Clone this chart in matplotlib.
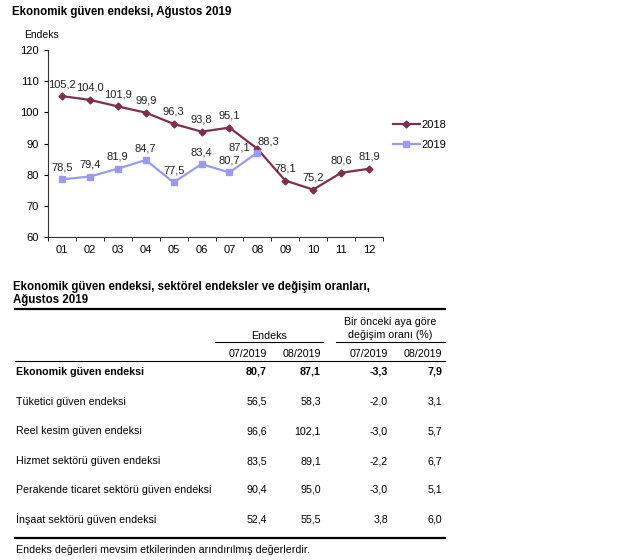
import matplotlib
matplotlib.use("Agg")
import matplotlib.pyplot as plt
from matplotlib.lines import Line2D

plt.rcParams['font.family'] = ['Liberation Sans', 'DejaVu Sans']

# Chart data
months = ['01', '02', '03', '04', '05', '06', '07', '08', '09', '10', '11', '12']
y2018 = [105.2, 104.0, 101.9, 99.9, 96.3, 93.8, 95.1, 88.3, 78.1, 75.2, 80.6, 81.9]
y2019 = [78.5, 79.4, 81.9, 84.7, 77.5, 83.4, 80.7, 87.1]

# Table data
row_labels = ['Ekonomik güven endeksi', 'Tüketici güven endeksi', 'Reel kesim güven endeksi',
              'Hizmet sektörü güven endeksi', 'Perakende ticaret sektörü güven endeksi',
              'İnşaat sektörü güven endeksi']
idx_jul = ['80,7', '56,5', '96,6', '83,5', '90,4', '52,4']
idx_aug = ['87,1', '58,3', '102,1', '89,1', '95,0', '55,5']
chg_jul = ['-3,3', '-2,0', '-3,0', '-2,2', '-3,0', '3,8']
chg_aug = ['7,9', '3,1', '5,7', '6,7', '5,1', '6,0']
col_heads = ['07/2019', '08/2019', '07/2019', '08/2019']

W, H = 640, 560
fig = plt.figure(figsize=(6.4, 5.6), dpi=100)

def fx(px):
    return px / W

def fy(py):
    return 1 - py / H

c18 = '#7E2F4F'
c19 = '#9A9AEE'

ax = fig.add_axes([fx(48), fy(237), fx(383 - 48), (237 - 50) / H])
x = list(range(1, 13))
ax.plot(x, y2018, color=c18, lw=1.6, marker='D', ms=3.5, label='2018')
ax.plot(x[:len(y2019)], y2019, color=c19, lw=1.6, marker='s', ms=4.5, label='2019')

def fmt(v):
    return f'{v:.1f}'.replace('.', ',')

for i, v in enumerate(y2018):
    off = (8, 2) if i == 7 else (0, 5)
    ax.annotate(fmt(v), (x[i], v), xytext=off, textcoords='offset points',
                ha='center', va='bottom', fontsize=8, color='#222222')
for i, v in enumerate(y2019):
    off = (-13, 0) if i == 7 else (0, 5)
    ax.annotate(fmt(v), (x[i], v), xytext=off, textcoords='offset points',
                ha='center', va='bottom', fontsize=8, color='#222222')

ax.set_xlim(0.5, 12.5)
ax.set_ylim(60, 120)
ax.set_yticks(range(60, 121, 10))
ax.set_xticks(x)
ax.set_xticklabels(months)
ax.set_xticks([i + 0.5 for i in range(0, 13)], minor=True)
ax.tick_params(axis='x', which='major', length=0, labelsize=8, pad=6)
ax.tick_params(axis='x', which='minor', length=3, direction='out')
ax.tick_params(axis='y', length=3, direction='out', labelsize=8)
for s in ['top', 'right']:
    ax.spines[s].set_visible(False)
ax.spines['left'].set_color('#333333')
ax.spines['bottom'].set_color('#333333')

fig.legend(loc='upper left', bbox_to_anchor=(fx(383), fy(110)), frameon=False,
           fontsize=8, handlelength=2.4, labelspacing=0.9, handletextpad=0.2)

fig.text(fx(12), fy(12), 'Ekonomik güven endeksi, Ağustos 2019', fontsize=8.3,
         fontweight='bold', va='center')
fig.text(fx(24), fy(35), 'Endeks', fontsize=7.5, va='center')

# Table
fig.text(fx(13), fy(287), 'Ekonomik güven endeksi, sektörel endeksler ve değişim oranları,',
         fontsize=8.3, fontweight='bold', va='center')
fig.text(fx(13), fy(300), 'Ağustos 2019', fontsize=8.3, fontweight='bold', va='center')

def hline(y, x0, x1, lw):
    fig.add_artist(Line2D([fx(x0), fx(x1)], [fy(y), fy(y)], color='black', lw=lw))

hline(309, 15, 445, 1.6)
hline(342, 215, 323, 0.8)
hline(342, 336, 445, 0.8)
hline(361, 15, 445, 0.8)
hline(538, 15, 445, 1.6)

fs = 7.7
fig.text(fx(269), fy(336), 'Endeks', fontsize=fs, ha='center', va='center')
fig.text(fx(390), fy(322), 'Bir önceki aya göre', fontsize=fs, ha='center', va='center')
fig.text(fx(390), fy(335), 'değişim oranı (%)', fontsize=fs, ha='center', va='center')

col_x = [267, 321, 388, 442]
for cx, h in zip(col_x, col_heads):
    fig.text(fx(cx), fy(354), h, fontsize=fs, ha='right', va='center')

row_y = [372, 402, 431, 461, 490, 519]
for r, ry in enumerate(row_y):
    w = 'bold' if r == 0 else 'normal'
    fig.text(fx(16), fy(ry), row_labels[r], fontsize=fs, fontweight=w, va='center')
    for cx, vals in zip(col_x, [idx_jul, idx_aug, chg_jul, chg_aug]):
        fig.text(fx(cx), fy(ry), vals[r], fontsize=fs, fontweight=w, ha='right', va='center')

fig.text(fx(16), fy(550), 'Endeks değerleri mevsim etkilerinden arındırılmış değerlerdir.',
         fontsize=fs, va='center')

fig.savefig('out.png', dpi=100)
